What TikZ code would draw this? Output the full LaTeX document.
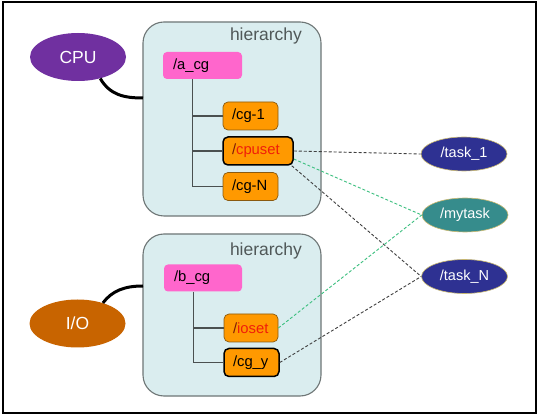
\documentclass[tikz,border=0pt]{standalone}
\usepackage{fontspec}
\setmainfont{Liberation Sans}
\usetikzlibrary{shapes.geometric}
\definecolor{hierfill}{HTML}{DAEDEF}
\definecolor{hierdraw}{HTML}{6E7676}
\definecolor{pinkbox}{HTML}{FF66CC}
\definecolor{orangebox}{HTML}{FF9900}
\definecolor{orangedraw}{HTML}{8A5A10}
\definecolor{cpucol}{HTML}{7030A0}
\definecolor{iocol}{HTML}{C86400}
\definecolor{taskcol}{HTML}{2E3192}
\definecolor{mycol}{HTML}{368C8C}
\definecolor{treecol}{HTML}{4A5050}
\definecolor{greydash}{HTML}{404040}
\definecolor{greendash}{HTML}{3CBF7F}
\definecolor{redtext}{HTML}{F01E0A}
\definecolor{slashred}{HTML}{7A1A08}
\definecolor{hiertext}{HTML}{505858}
\definecolor{ellborder}{HTML}{C8B870}
\begin{document}
\begin{tikzpicture}[x=1pt,y=-1pt,
  hierbox/.style={draw=hierdraw,line width=1.1pt,fill=hierfill,rounded corners=21pt,minimum width=#1,inner sep=0pt},
  hierlabel/.style={text=hiertext,font=\fontsize{17.5}{20}\selectfont,inner sep=0pt},
  pinkcg/.style={fill=pinkbox,rounded corners=4pt,minimum height=27pt,text width=#1,align=left,inner xsep=10pt,inner ysep=0pt,font=\fontsize{14.8}{17}\selectfont},
  orangecg/.style={draw=orangedraw,line width=0.7pt,fill=orangebox,rounded corners=5pt,minimum height=28pt,text width=#1,align=left,inner xsep=9pt,inner ysep=0pt,font=\fontsize{14.8}{17}\selectfont},
  boldcg/.style={orangecg=#1,draw=black,line width=1.5pt},
  bigell/.style={ellipse,fill=#1,minimum width=96pt,minimum height=48pt,inner sep=0pt,text=white,font=\fontsize{17.5}{20}\selectfont},
  taskell/.style={ellipse,fill=#1,draw=ellborder,line width=0.6pt,minimum width=86pt,minimum height=34pt,inner sep=0pt,text=white,font=\fontsize{14.5}{17}\selectfont},
  tree/.style={draw=treecol,line width=1.2pt},
  link/.style={line width=3pt,black},
  dashgrey/.style={draw=greydash,line width=0.9pt,dash pattern=on 3pt off 2pt},
  dashgreen/.style={draw=greendash,line width=0.9pt,dash pattern=on 3pt off 2pt}
]
\useasboundingbox (0,0) rectangle (538,419);
\fill[white] (0,0) rectangle (538,419);
\draw[line width=2pt] (2.5,2.5) rectangle (535.5,412.5);

% hierarchy containers
\node[hierbox=178pt,minimum height=194pt] (hA) at (232,119) {};
\node[hierbox=178pt,minimum height=162pt] (hB) at (232,315) {};
\node[hierlabel] (labA) at (266,36) {hierarchy};
\node[hierlabel] (labB) at (266,251) {hierarchy};

% upper tree
\node[pinkcg=59pt] (acg) at (202.5,65.5) {/a\_cg};
\node[orangecg=37pt] (cg1) at (250.5,116) {/cg-1};
\node[boldcg=52pt] (cpuset) at (258,151) {\textcolor{slashred}{/}\textcolor{redtext}{cpuset}};
\node[orangecg=37pt] (cgN) at (250.5,186.5) {/cg-N};
\draw[tree] ([xshift=30pt]acg.south west) |- (cgN.west);
\draw[tree] (cg1.west) -- ++(-30,0);
\draw[tree] (cpuset.west) -- ++(-30,0);

% lower tree
\node[pinkcg=58pt] (bcg) at (203,278) {/b\_cg};
\node[orangecg=36pt] (ioset) at (251,328) {\textcolor{slashred}{/}\textcolor{redtext}{ioset}};
\node[boldcg=37pt] (cgy) at (251.5,362.5) {/cg\_y};
\draw[tree] ([xshift=30pt]bcg.south west) |- (cgy.west);
\draw[tree] (ioset.west) -- ++(-30,0);

% resources
\node[bigell=cpucol] (cpu) at (78,57) {CPU};
\node[bigell=iocol] (io) at (77.5,323.5) {I/O};
\coordinate (cpuEnd) at (143,98);
\coordinate (ioEnd) at (143,286);
\draw[link] (cpu.-44) .. controls (110,95) and (124,98) .. (cpuEnd);
\draw[link] (io.39) .. controls (112,291) and (124,286) .. (ioEnd);

% tasks
\node[taskell=taskcol] (task1) at (464,154) {/task\_1};
\node[taskell=mycol] (mytask) at (465,215) {/mytask};
\node[taskell=taskcol] (taskN) at (464.5,276.5) {/task\_N};

% dashed links
\draw[dashgrey] (cpuset.east) -- (task1.west);
\draw[dashgreen] ([yshift=-8pt]cpuset.east) -- (mytask.west);
\draw[dashgrey] ([xshift=-2pt]cpuset.south east) -- (taskN.west);
\draw[dashgreen] (ioset.east) -- (mytask.west);
\draw[dashgrey] (cgy.east) -- (taskN.west);
\end{tikzpicture}
\end{document}
